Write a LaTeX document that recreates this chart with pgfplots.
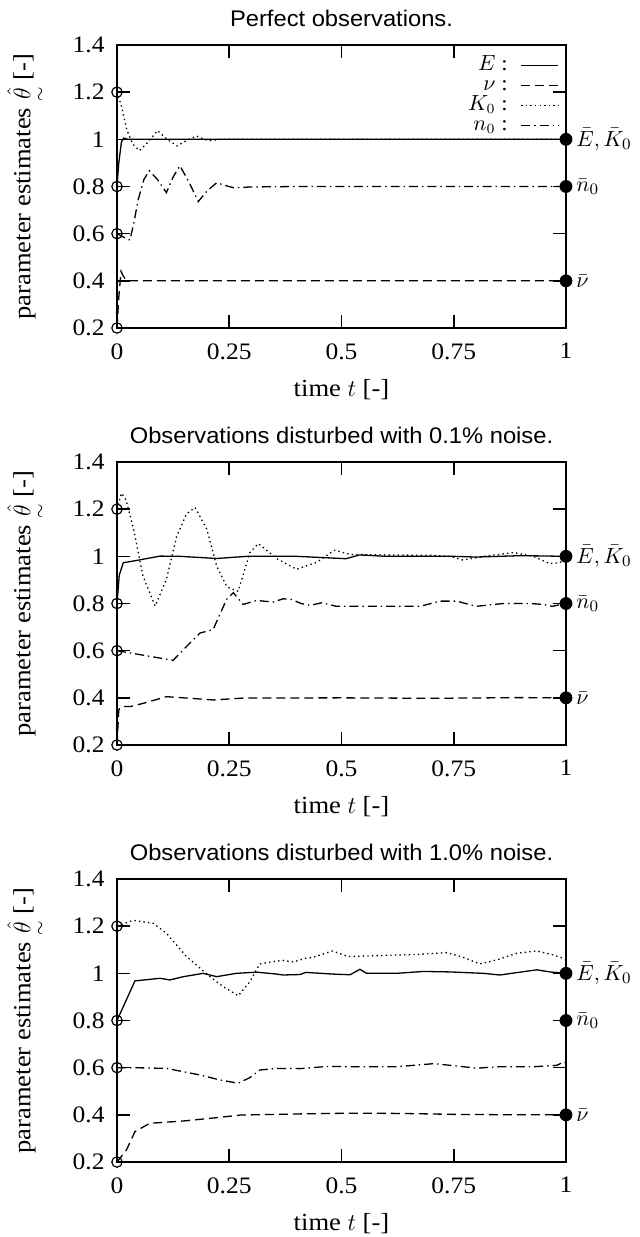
\documentclass[border=0pt]{standalone}
\usepackage{amsmath}
\usepackage{fontspec}
\setmainfont{Liberation Serif}[FakeStretch=1.08]
\newfontfamily\titlefont{Liberation Sans}[FakeStretch=1.05]
\usepackage{pgfplots}
\pgfplotsset{compat=1.18}
\tikzset{rlab/.style={anchor=west, inner sep=0pt, xshift=5pt, font=\fontsize{11}{12}\selectfont}}
\pgfplotsset{
  myaxis/.style={
    width=224.5pt, height=141.5pt, scale only axis,
    xmin=0, xmax=1, ymin=0.2, ymax=1.4,
    xtick={0,0.25,0.5,0.75,1}, xticklabels={0,0.25,0.5,0.75,1},
    ytick={0.2,0.4,0.6,0.8,1,1.2,1.4}, yticklabels={0.2,0.4,0.6,0.8,1,1.2,1.4},
    tick align=inside, major tick length=6.5pt,
    every tick/.style={black, line width=0.8pt},
    axis line style={line width=1pt},
    clip=false,
    /pgf/number format/assume math mode=true,
    ticklabel style={font=\fontsize{11.8}{13}\selectfont},
    xticklabel style={anchor=north, inner sep=0pt, yshift=-7.5pt},
    yticklabel style={anchor=east, inner sep=0pt, xshift=-6pt},
    xlabel={time $t$ [-]},
    ylabel={parameter estimates $\underset{\sim}{\hat{\theta}}$ [-]},
    label style={font=\fontsize{12.3}{14}\selectfont},
    xlabel style={at={(axis description cs:0.5,0)}, anchor=base, yshift=-34pt},
    ylabel style={at={(axis description cs:-0.2,0.5)}, anchor=center},
    title style={font=\titlefont\fontsize{11.3}{13}\selectfont, at={(axis description cs:0.5,1)}, anchor=base, yshift=3.5pt},
  },
  Eline/.style={black, line width=0.65pt},
  nuline/.style={black, line width=0.65pt, dash pattern=on 4.5pt off 2.5pt},
  Kline/.style={black, line width=0.65pt, dash pattern=on 0.7pt off 1.6pt},
  nline/.style={black, line width=0.65pt, dash pattern=on 4.5pt off 2pt on 0.7pt off 2pt},
  startmk/.style={only marks, mark=o, mark size=2.6pt, black, mark options={line width=0.6pt}, forget plot},
  endmk/.style={only marks, mark=*, mark size=3pt, black, forget plot},
}
\begin{document}
\begin{tikzpicture}
\useasboundingbox (-58.5pt,-454.5pt) rectangle (261.5pt,164pt);

% ---------- Top: perfect observations
\begin{axis}[myaxis, at={(0pt,0pt)}, anchor=south west,
  title={Perfect observations.},
  legend style={at={(axis description cs:0.985,0.965)}, anchor=north east, draw=none, fill=none,
    inner sep=0pt, row sep=0pt, column sep=6pt, font=\fontsize{10.5}{10}\selectfont,
    nodes={inner sep=0.5pt, text height=7pt, text depth=2pt}},
  legend cell align=right, legend plot pos=right,
  legend image code/.code={\draw[#1] (0pt,0pt) -- (18.5pt,0pt);}]
\addplot[Eline] coordinates {(0,0.8) (0.004,0.9) (0.01,0.99) (0.015,1.005) (0.025,1.0) (1,1.0)};
\addlegendentry{$E$ :}
\addplot[nuline] coordinates {(0,0.2) (0.004,0.33) (0.009,0.44) (0.014,0.42) (0.022,0.40) (1,0.40)};
\addlegendentry{$\nu$ :}
\addplot[Kline] coordinates {(0,1.2) (0.01,1.14) (0.022,1.04) (0.035,0.98) (0.05,0.952) (0.07,0.99) (0.09,1.037) (0.112,1.0) (0.134,0.972) (0.155,0.995) (0.177,1.014) (0.195,1.0) (0.207,0.994) (0.23,1.0) (1,1.0)};
\addlegendentry{$K_0$ :}
\addplot[nline] coordinates {(0,0.6) (0.015,0.585) (0.029,0.573) (0.038,0.65) (0.047,0.743) (0.06,0.83) (0.072,0.867) (0.09,0.83) (0.11,0.774) (0.125,0.84) (0.14,0.888) (0.16,0.82) (0.181,0.736) (0.2,0.78) (0.222,0.816) (0.24,0.805) (0.259,0.795) (0.3,0.798) (0.4,0.80) (1,0.80)};
\addlegendentry{$n_0$ :}
\addplot[startmk] coordinates {(0,1.2) (0,0.8) (0,0.6) (0,0.2)};
\addplot[endmk] coordinates {(1,1) (1,0.8) (1,0.4)};
\node[rlab] at (axis cs:1,1) {$\bar{E}, \bar{K}_0$};
\node[rlab] at (axis cs:1,0.8) {$\bar{n}_0$};
\node[rlab] at (axis cs:1,0.4) {$\bar{\nu}$};
\end{axis}

% ---------- Middle: 0.1% noise
\begin{axis}[myaxis, at={(0pt,-208.5pt)}, anchor=south west,
  title={Observations disturbed with 0.1\% noise.}]
\addplot[Eline] coordinates {(0,0.8) (0.005,0.92) (0.014,0.973) (0.036,0.98) (0.096,1.001) (0.14,1.0) (0.222,0.991) (0.29,1.0) (0.4,1.0) (0.51,0.99) (0.54,1.006) (0.6,1.0) (0.75,1.0) (0.8,0.997) (0.9,1.003) (1,1.0)};
\addplot[nuline] coordinates {(0,0.2) (0.004,0.35) (0.01,0.363) (0.03,0.363) (0.059,0.377) (0.11,0.405) (0.148,0.40) (0.214,0.391) (0.281,0.399) (0.5,0.40) (0.7,0.398) (0.9,0.401) (1,0.40)};
\addplot[Kline] coordinates {(0,1.2) (0.01,1.268) (0.02,1.24) (0.037,1.115) (0.058,0.916) (0.085,0.789) (0.11,0.902) (0.133,1.086) (0.155,1.18) (0.174,1.207) (0.2,1.115) (0.222,0.959) (0.245,0.87) (0.27,0.852) (0.296,1.016) (0.315,1.054) (0.356,0.99) (0.4,0.945) (0.445,0.975) (0.484,1.026) (0.52,1.008) (0.6,1.006) (0.7,1.004) (0.742,1.0) (0.771,0.984) (0.816,1.0) (0.883,1.016) (0.927,1.0) (0.964,0.969) (0.987,0.973) (1,1.0)};
\addplot[nline] coordinates {(0,0.6) (0.073,0.576) (0.125,0.559) (0.155,0.618) (0.185,0.675) (0.214,0.689) (0.244,0.817) (0.259,0.846) (0.281,0.796) (0.311,0.813) (0.348,0.806) (0.37,0.82) (0.389,0.817) (0.41,0.8) (0.43,0.792) (0.456,0.803) (0.489,0.788) (0.556,0.788) (0.63,0.788) (0.675,0.788) (0.719,0.81) (0.757,0.81) (0.8,0.788) (0.86,0.8) (0.92,0.8) (0.95,0.796) (0.969,0.788) (1,0.8)};
\addplot[startmk] coordinates {(0,1.2) (0,0.8) (0,0.6) (0,0.2)};
\addplot[endmk] coordinates {(1,1) (1,0.8) (1,0.4)};
\node[rlab] at (axis cs:1,1) {$\bar{E}, \bar{K}_0$};
\node[rlab] at (axis cs:1,0.8) {$\bar{n}_0$};
\node[rlab] at (axis cs:1,0.4) {$\bar{\nu}$};
\end{axis}

% ---------- Bottom: 1.0% noise
\begin{axis}[myaxis, at={(0pt,-417pt)}, anchor=south west,
  title={Observations disturbed with 1.0\% noise.}]
\addplot[Eline] coordinates {(0,0.8) (0.04,0.968) (0.096,0.979) (0.118,0.972) (0.148,0.986) (0.192,1.0) (0.222,0.986) (0.266,1.0) (0.311,1.005) (0.355,0.997) (0.37,0.993) (0.408,0.995) (0.42,1.004) (0.48,0.997) (0.519,0.994) (0.541,1.017) (0.556,1.0) (0.623,1.0) (0.682,1.008) (0.742,1.006) (0.816,1.0) (0.853,0.993) (0.89,1.003) (0.935,1.015) (0.964,1.006) (1,1.0)};
\addplot[nuline] coordinates {(0,0.2) (0.021,0.251) (0.04,0.329) (0.073,0.364) (0.148,0.374) (0.222,0.388) (0.274,0.399) (0.408,0.404) (0.519,0.407) (0.63,0.406) (0.75,0.402) (0.9,0.40) (1,0.40)};
\addplot[Kline] coordinates {(0,1.2) (0.036,1.225) (0.081,1.212) (0.11,1.17) (0.155,1.071) (0.207,0.986) (0.237,0.943) (0.27,0.905) (0.296,0.965) (0.318,1.04) (0.348,1.05) (0.37,1.055) (0.393,1.048) (0.42,1.064) (0.437,1.068) (0.48,1.095) (0.515,1.071) (0.593,1.076) (0.668,1.08) (0.734,1.088) (0.771,1.068) (0.808,1.04) (0.846,1.057) (0.89,1.085) (0.935,1.095) (0.972,1.078) (1,1.06)};
\addplot[nline] coordinates {(0,0.6) (0.036,0.6) (0.11,0.597) (0.185,0.569) (0.229,0.548) (0.27,0.534) (0.296,0.558) (0.318,0.59) (0.356,0.597) (0.408,0.596) (0.467,0.605) (0.541,0.604) (0.623,0.604) (0.705,0.617) (0.742,0.61) (0.801,0.598) (0.853,0.604) (0.927,0.604) (0.98,0.61) (0.995,0.625) (1,0.62)};
\addplot[startmk] coordinates {(0,1.2) (0,0.8) (0,0.6) (0,0.2)};
\addplot[endmk] coordinates {(1,1) (1,0.8) (1,0.4)};
\node[rlab] at (axis cs:1,1) {$\bar{E}, \bar{K}_0$};
\node[rlab] at (axis cs:1,0.8) {$\bar{n}_0$};
\node[rlab] at (axis cs:1,0.4) {$\bar{\nu}$};
\end{axis}
\end{tikzpicture}
\end{document}
